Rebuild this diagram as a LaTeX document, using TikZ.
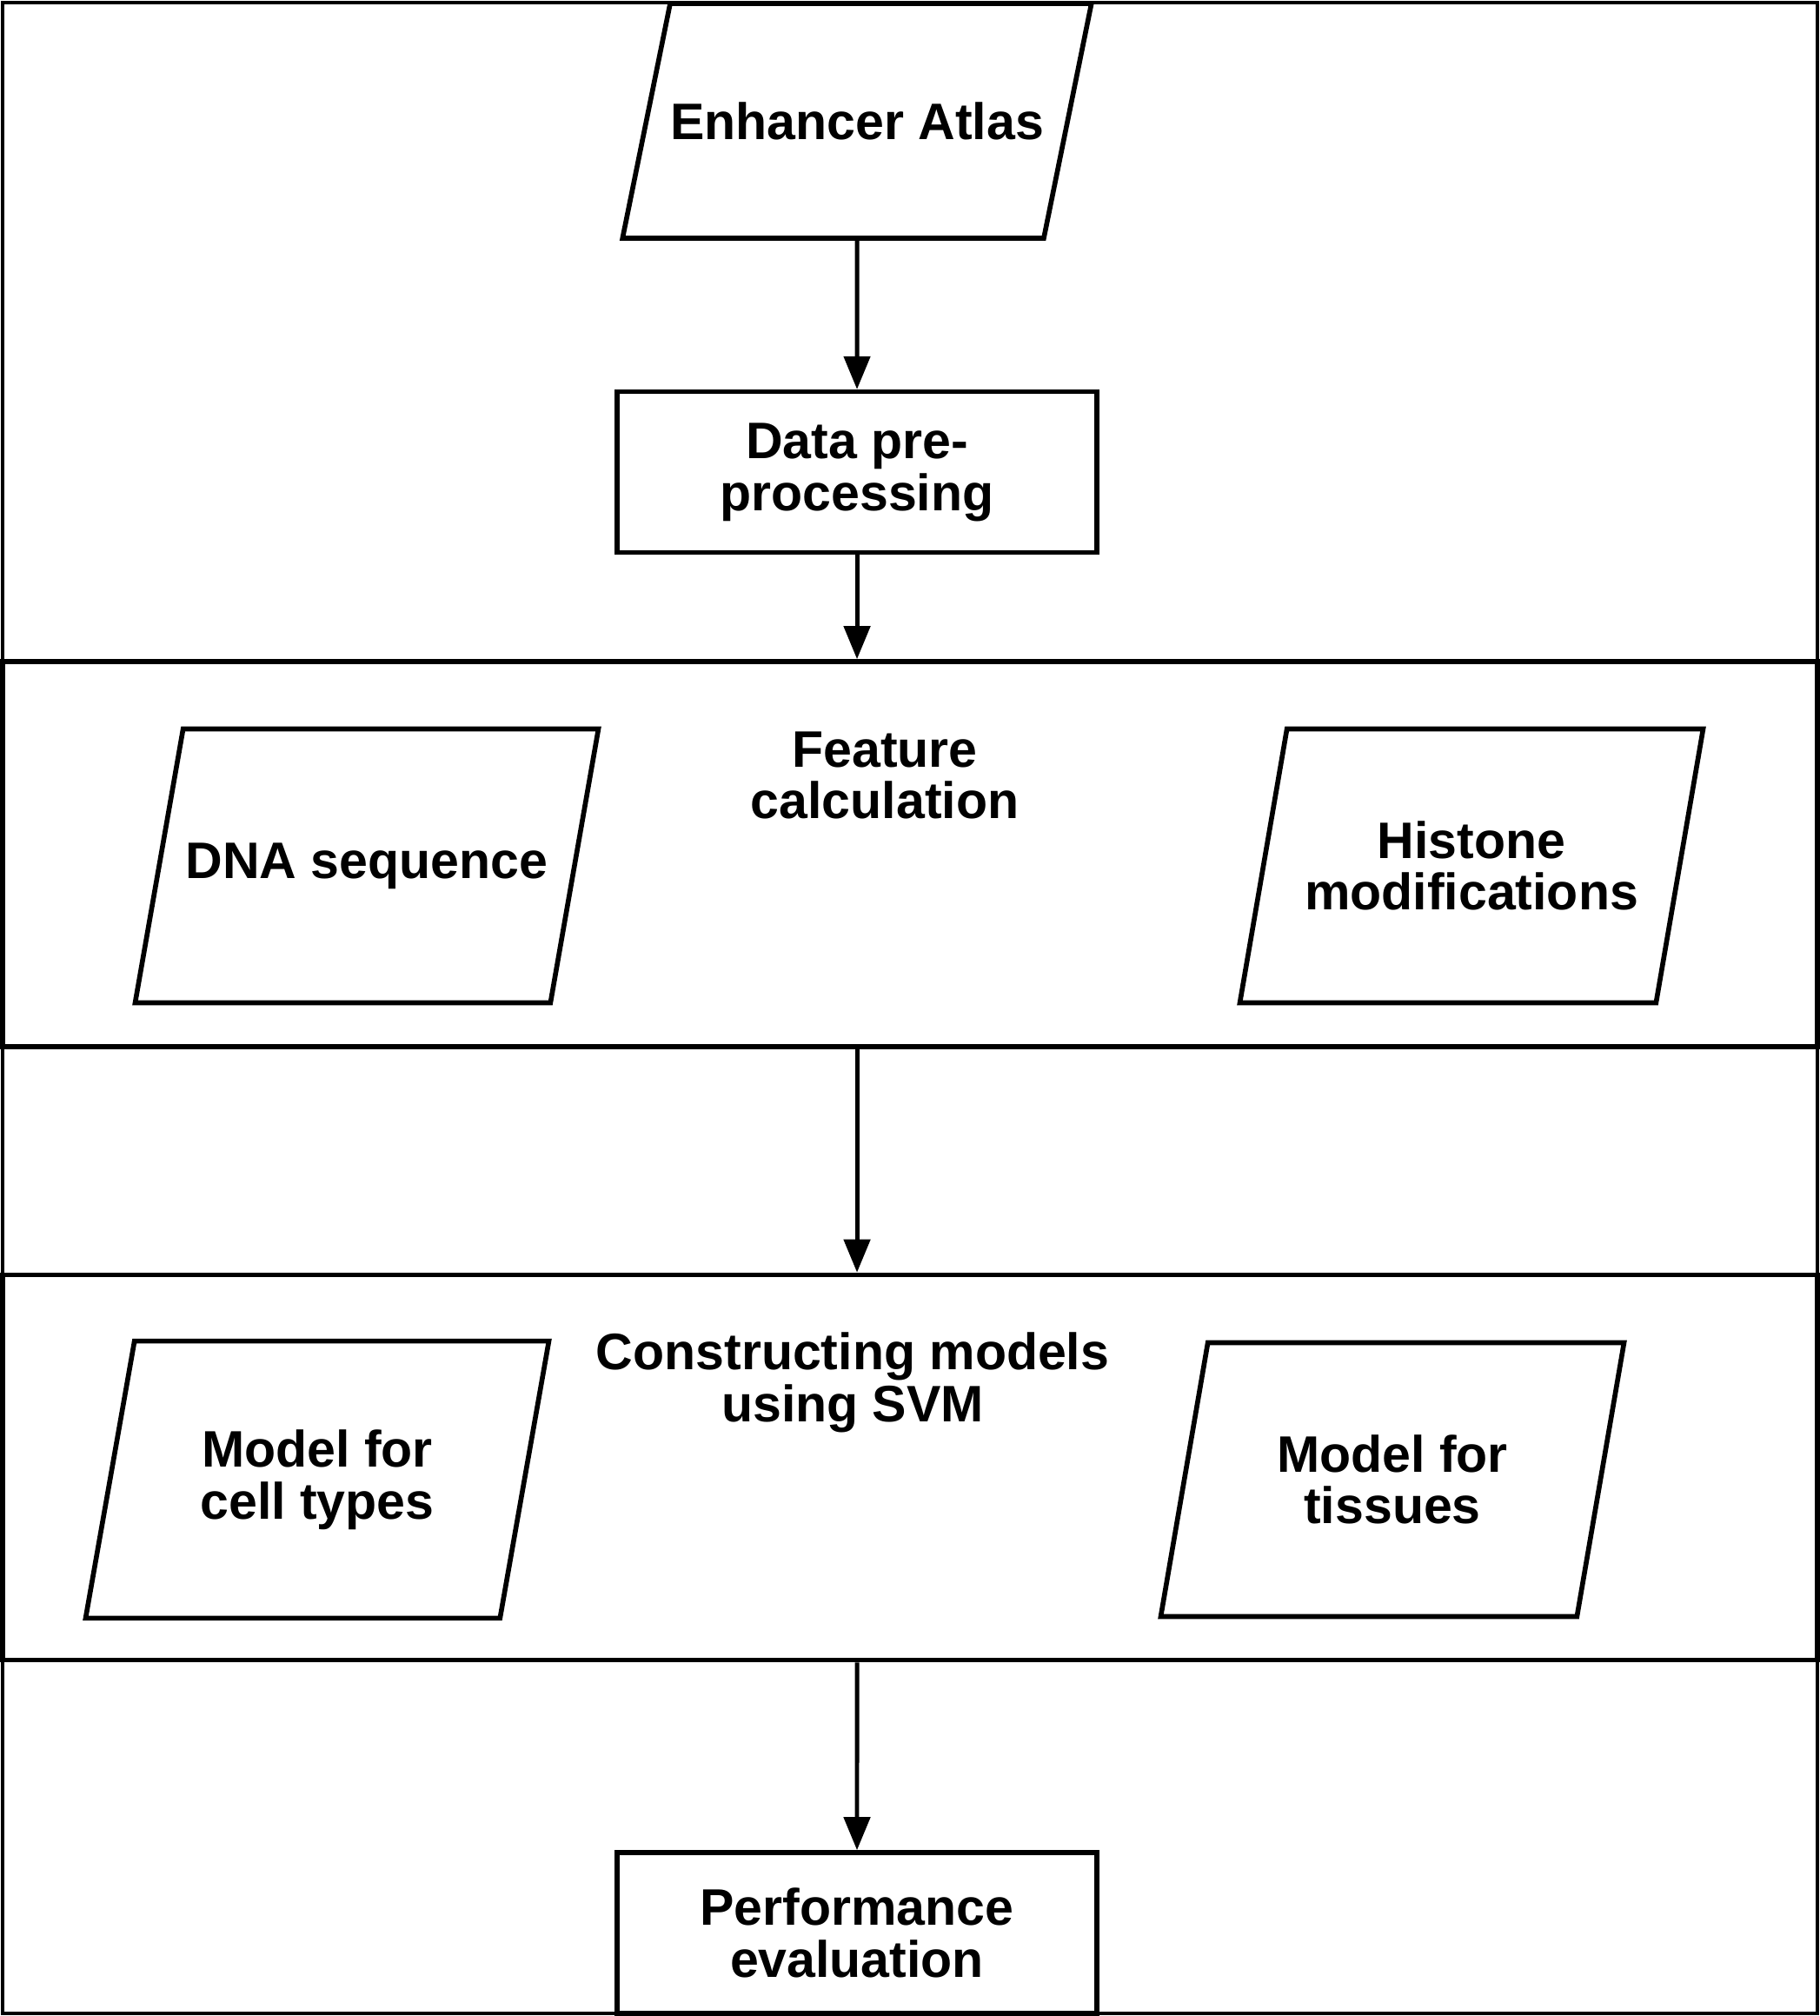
\documentclass[tikz,border=0pt]{standalone}
\usepackage{fontspec}
\setmainfont{Liberation Sans}
\usetikzlibrary{arrows.meta, positioning, shapes.geometric}

\begin{document}
\begin{tikzpicture}[
  node distance=1.71cm,
  txt/.style={font=\fontsize{16.8}{17}\selectfont\bfseries, align=center},
  data/.style={txt, draw, line width=1.6pt, trapezium, trapezium left angle=80, trapezium right angle=100, trapezium stretches body=true, inner xsep=0pt, inner ysep=1.02cm, minimum width=5.33cm, minimum height=3.15cm},
  box/.style={txt, draw, rectangle, line width=1.6pt, minimum width=5.52cm, minimum height=1.85cm},
  stage/.style={draw, rectangle, line width=1.6pt, minimum width=20.88cm, minimum height=4.43cm},
  arrow/.style={line width=1.4pt, -{Triangle[width=3mm, length=3.8mm]}}
]
\useasboundingbox (0,0) rectangle (20.94,-23.19);
\draw[line width=1.3pt] (0.03,-0.03) rectangle (20.91,-23.16);

% Stages
\node[stage] (feat) at (10.47,-9.825) {};
\node[stage] (svm) at (10.47,-16.88) {};
\node[txt] (featlbl) at (10.18,-8.92) {Feature\\calculation};
\node[txt] (svmlbl) at (9.81,-15.90) {Constructing models\\using SVM};

% Main flow
\node[data, inner ysep=1.13cm, minimum width=5.37cm, minimum height=2.70cm, trapezium left angle=78.5, trapezium right angle=101.5] (atlas) at (9.86,-1.39) {Enhancer Atlas};
\node[box, below=1.71cm of atlas] (prep) {Data pre-\\processing};
\node[box] (perf) at (9.86,-22.235) {Performance\\evaluation};

% Inputs of the stages
\node[data, inner ysep=1.3cm] (dna) at (4.22,-9.96) {DNA sequence};
\node[data] (histone) at (16.93,-9.96) {Histone\\modifications};
\node[data] (celltypes) at (3.65,-17.02) {Model for\\cell types};
\node[data] (tissues) at (16.02,-17.02) {Model for\\tissues};

% Arrows
\draw[arrow] (atlas) -- (prep);
\draw[arrow] (prep) -- (prep |- feat.north);
\draw[arrow] (prep |- feat.south) -- (prep |- svm.north);
\draw[arrow] (prep |- svm.south) -- (perf);

\end{tikzpicture}
\end{document}
